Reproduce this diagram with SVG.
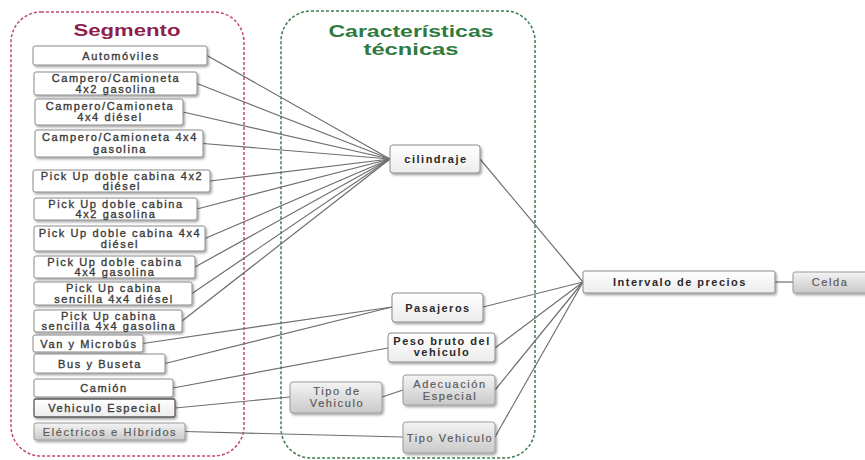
<svg xmlns="http://www.w3.org/2000/svg" width="865" height="460" viewBox="0 0 865 460">
<defs>
<filter id="sh" x="-10%" y="-20%" width="125%" height="160%">
<feDropShadow dx="1.5" dy="1.8" stdDeviation="1.2" flood-color="#000" flood-opacity="0.35"/>
</filter>
<linearGradient id="gg" x1="0" y1="0" x2="0" y2="1">
<stop offset="0" stop-color="#f4f4f4"/>
<stop offset="1" stop-color="#c9c9c9"/>
</linearGradient>
<linearGradient id="gw" x1="0" y1="0" x2="0" y2="1">
<stop offset="0" stop-color="#ffffff"/>
<stop offset="1" stop-color="#ececec"/>
</linearGradient>
</defs>
<style>
text{font-family:"Liberation Sans",Arial,sans-serif;text-anchor:middle;}
.w{fill:#ffffff;stroke:#8a8a8a;stroke-width:1;filter:url(#sh);}
.wg{fill:url(#gw);stroke:#8a8a8a;stroke-width:1;filter:url(#sh);}
.g{fill:url(#gg);stroke:#9a9a9a;stroke-width:1;filter:url(#sh);}
.s{font-size:11px;fill:#3a3a3a;stroke:#3a3a3a;stroke-width:0.35px;letter-spacing:1.6px;}
.b{font-size:11px;fill:#2a2a2a;font-weight:bold;letter-spacing:1.5px;}
.gt{font-size:11px;fill:#5a5a5a;stroke:#5a5a5a;stroke-width:0.2px;letter-spacing:1.6px;}
.t{font-size:17px;font-weight:bold;}
.c line{stroke:#6e6e6e;stroke-width:1.2;}
</style>
<rect x="0" y="0" width="865" height="460" fill="#ffffff"/>
<g id="segmento">
<rect x="11" y="12" width="233" height="444" rx="30" fill="none" stroke="#c2486c" stroke-width="1.5" stroke-dasharray="3,2"/>
<text class="t" x="127" y="36" fill="#8e1f4c" textLength="107" lengthAdjust="spacingAndGlyphs">Segmento</text>
</g>
<g id="caracteristicas">
<rect x="281" y="11" width="254" height="447" rx="30" fill="none" stroke="#3e7d4c" stroke-width="1.5" stroke-dasharray="3,2"/>
<text class="t" x="411" y="37" fill="#2f7a40" textLength="165" lengthAdjust="spacingAndGlyphs">Características</text>
<text class="t" x="411" y="55" fill="#2f7a40" textLength="95" lengthAdjust="spacingAndGlyphs">técnicas</text>
</g>
<g id="connectors" class="c">
<line x1="207" y1="55.5" x2="390" y2="159"/>
<line x1="197" y1="83.5" x2="390" y2="159"/>
<line x1="183" y1="112" x2="390" y2="159"/>
<line x1="203" y1="143.5" x2="390" y2="159"/>
<line x1="210" y1="181" x2="390" y2="159"/>
<line x1="197" y1="209" x2="390" y2="159"/>
<line x1="205" y1="238.5" x2="390" y2="159"/>
<line x1="195" y1="267" x2="390" y2="159"/>
<line x1="192" y1="293.5" x2="390" y2="159"/>
<line x1="182" y1="321" x2="390" y2="159"/>
<line x1="143" y1="343.5" x2="392" y2="307"/>
<line x1="165" y1="363.5" x2="392" y2="307"/>
<line x1="173" y1="388" x2="388" y2="348"/>
<line x1="175" y1="408" x2="290" y2="397"/>
<line x1="382" y1="397" x2="403" y2="390"/>
<line x1="185" y1="431.5" x2="403" y2="437"/>
<line x1="480" y1="159" x2="583" y2="282"/>
<line x1="483" y1="307" x2="583" y2="282"/>
<line x1="495" y1="348" x2="583" y2="282"/>
<line x1="495" y1="390" x2="583" y2="282"/>
<line x1="495" y1="437" x2="583" y2="282"/>
<line x1="775" y1="282" x2="793" y2="282"/>
</g>
<g id="n-automoviles"><rect class="w" x="33" y="46" width="174" height="19" rx="2"/><text class="s" x="121" y="59.5">Automóviles</text></g>
<g id="n-camp42g"><rect class="w" x="34" y="72" width="163" height="23" rx="2"/><text class="s" x="116" y="82">Campero/Camioneta</text><text class="s" x="116" y="92.5">4x2 gasolina</text></g>
<g id="n-camp44d"><rect class="w" x="35" y="99" width="148" height="26" rx="2"/><text class="s" x="110" y="110">Campero/Camioneta</text><text class="s" x="110" y="121">4x4 diésel</text></g>
<g id="n-camp44g"><rect class="w" x="35" y="130" width="168" height="27" rx="2"/><text class="s" x="120" y="141">Campero/Camioneta 4x4</text><text class="s" x="120" y="153">gasolina</text></g>
<g id="n-pudc42d"><rect class="w" x="33" y="170" width="177" height="22" rx="2"/><text class="s" x="122" y="179.5">Pick Up doble cabina 4x2</text><text class="s" x="122" y="190">diésel</text></g>
<g id="n-pudc42g"><rect class="w" x="34" y="198" width="163" height="22" rx="2"/><text class="s" x="116" y="207.5">Pick Up doble cabina</text><text class="s" x="116" y="218">4x2 gasolina</text></g>
<g id="n-pudc44d"><rect class="w" x="34" y="226" width="171" height="25" rx="2"/><text class="s" x="120" y="236.5">Pick Up doble cabina 4x4</text><text class="s" x="120" y="247.5">diésel</text></g>
<g id="n-pudc44g"><rect class="w" x="34" y="256" width="161" height="22" rx="2"/><text class="s" x="115" y="265.5">Pick Up doble cabina</text><text class="s" x="115" y="276">4x4 gasolina</text></g>
<g id="n-pucs44d"><rect class="w" x="34" y="282" width="158" height="23" rx="2"/><text class="s" x="114" y="291.5">Pick Up cabina</text><text class="s" x="114" y="302.5">sencilla 4x4 diésel</text></g>
<g id="n-pucs44g"><rect class="w" x="34" y="310" width="148" height="22" rx="2"/><text class="s" x="109" y="319.5">Pick Up cabina</text><text class="s" x="109" y="330">sencilla 4x4 gasolina</text></g>
<g id="n-van"><rect class="w" x="33" y="335" width="110" height="17" rx="2"/><text class="s" x="89" y="347.5">Van y Microbús</text></g>
<g id="n-bus"><rect class="w" x="34" y="354" width="131" height="19" rx="2"/><text class="s" x="100" y="367.5">Bus y Buseta</text></g>
<g id="n-camion"><rect class="w" x="34" y="379" width="139" height="18" rx="2"/><text class="s" x="104" y="392">Camión</text></g>
<g id="n-especial"><rect class="wg" x="34" y="399" width="141" height="18" rx="2" style="stroke:#5a5a5a;stroke-width:1.3"/><text class="s" x="105" y="412">Vehiculo Especial</text></g>
<g id="n-electricos"><rect class="g" x="34" y="423" width="151" height="17" rx="2"/><text class="gt" x="110" y="435.5">Eléctricos e Híbridos</text></g>
<g id="n-cilindraje"><rect class="wg" x="390" y="145" width="90" height="28" rx="3"/><text class="b" x="436" y="163">cilindraje</text></g>
<g id="n-pasajeros"><rect class="wg" x="392" y="293" width="91" height="29" rx="3"/><text class="b" x="438" y="311.5">Pasajeros</text></g>
<g id="n-peso"><rect class="wg" x="388" y="333" width="107" height="29" rx="3"/><text class="b" x="442" y="344.5">Peso bruto del</text><text class="b" x="442" y="356">vehiculo</text></g>
<g id="n-adecuacion"><rect class="g" x="403" y="375" width="92" height="30" rx="3"/><text class="gt" x="450" y="388">Adecuación</text><text class="gt" x="450" y="399.5">Especial</text></g>
<g id="n-tipode"><rect class="g" x="290" y="382" width="92" height="31" rx="3"/><text class="gt" x="337" y="395">Tipo de</text><text class="gt" x="337" y="406.5">Vehiculo</text></g>
<g id="n-tipo"><rect class="g" x="403" y="422" width="92" height="31" rx="3"/><text class="gt" x="450" y="441.5">Tipo Vehiculo</text></g>
<g id="n-intervalo"><rect class="wg" x="583" y="271" width="192" height="22" rx="2"/><text class="b" x="680" y="285.5">Intervalo de precios</text></g>
<g id="n-celda"><rect class="g" x="793" y="272" width="75" height="21" rx="2"/><text class="gt" x="830" y="285.5">Celda</text></g>
</svg>
